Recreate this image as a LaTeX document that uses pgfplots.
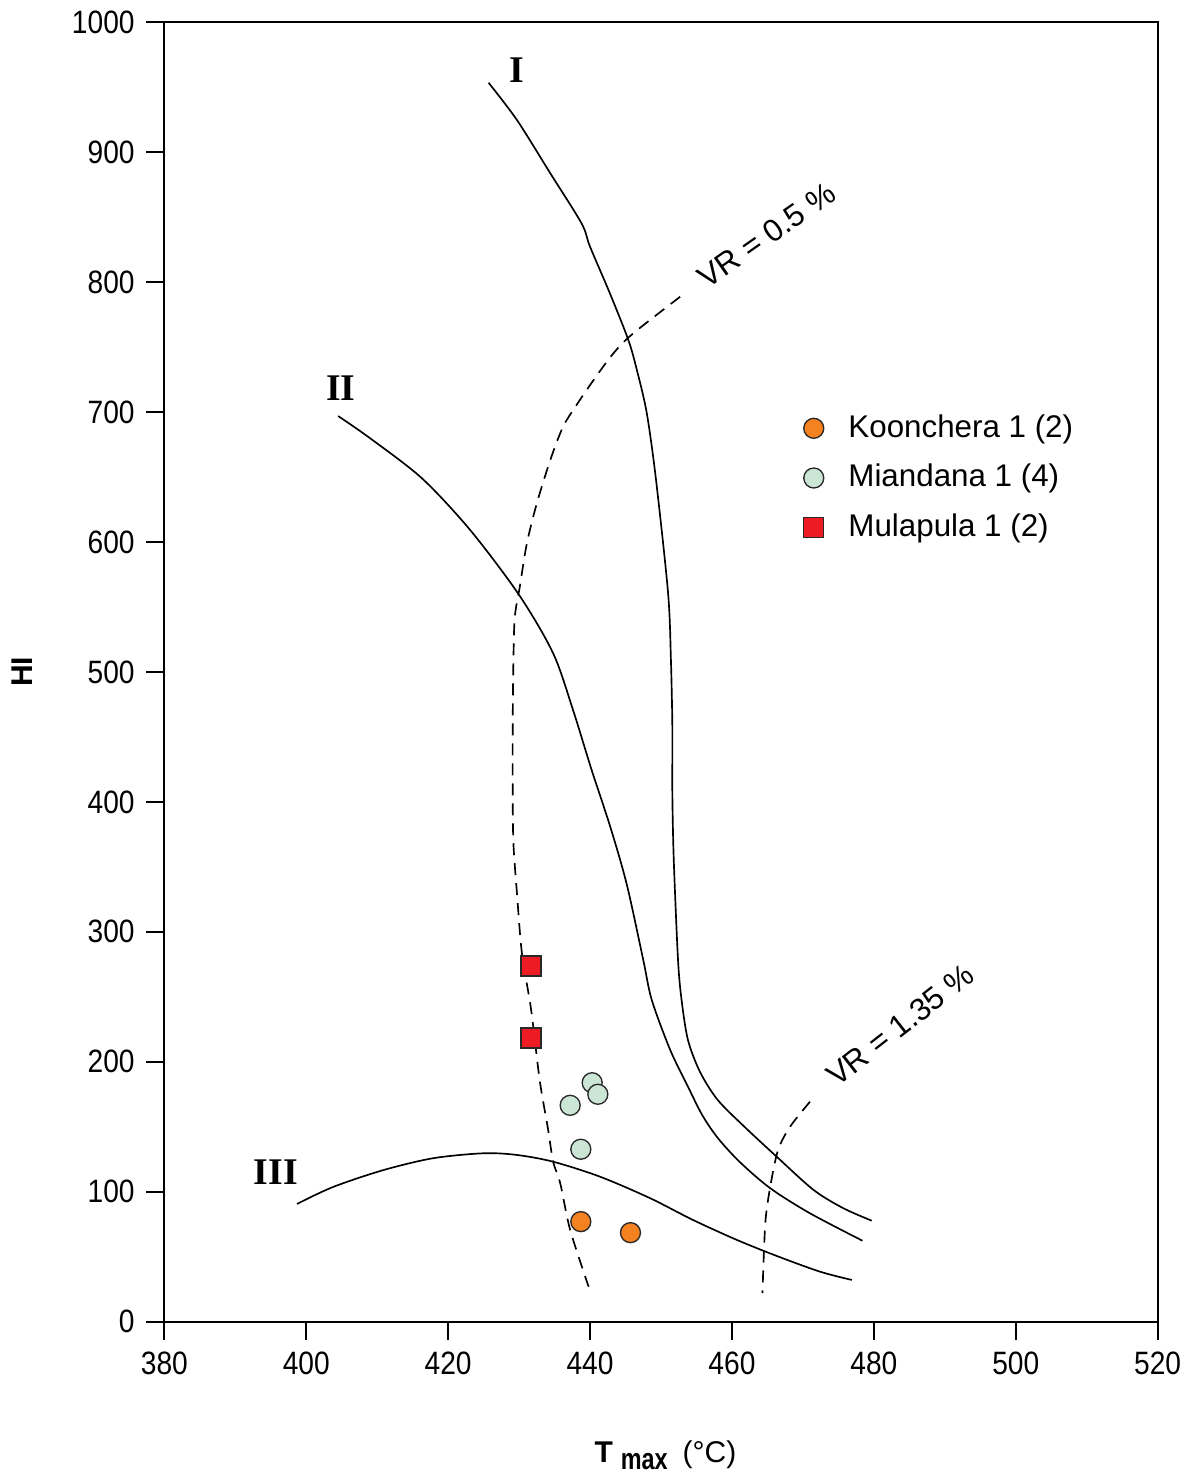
\documentclass[border=0pt]{standalone}
\usepackage{fontspec}
\setmainfont{Liberation Sans}
\newfontfamily\condfont[FakeStretch=0.87]{Liberation Sans}
\newfontfamily\condbfont[FakeStretch=0.78]{Liberation Sans Bold}
\newfontfamily\seriffont{Liberation Serif}
\usepackage{pgfplots}
\pgfplotsset{compat=1.18}
\definecolor{korange}{RGB}{245,130,32}
\definecolor{mgreen}{RGB}{204,230,214}
\definecolor{mred}{RGB}{237,28,36}
\definecolor{edge}{RGB}{40,40,40}
\begin{document}
\begin{tikzpicture}
\useasboundingbox (-49.3pt,-46pt) rectangle (308.9pt,396.5pt);
\begin{axis}[
  scale only axis, width=298pt, height=389.8pt,
  xmin=380, xmax=520, ymin=0, ymax=1000,
  xtick={380,400,...,520}, ytick={0,100,...,1000},
  tick align=outside, tick pos=left,
  major tick length=5.4pt,
  axis line style={line width=0.7pt},
  tick style={line width=0.6pt, black},
  /pgf/number format/assume math mode=true,
  /pgf/number format/1000 sep={},
  ticklabel style={font=\condfont\fontsize{9.7}{11}\selectfont},
  xlabel={\textbf{T}\hspace{2.4pt}\raisebox{-2pt}{\condbfont max}\hspace{4.5pt}(°C)},
  xlabel style={at={(axis description cs:0.5045,-0.1087)}, anchor=base, font=\fontsize{9}{11}\selectfont},
  ylabel={\textbf{HI}},
  ylabel style={at={(axis description cs:-0.143,0.5)}, anchor=center, font=\fontsize{9}{11}\selectfont},
  legend style={draw=none, fill=none, at={(rel axis cs:0.633,0.709)}, anchor=north west,
    font=\fontsize{9.4}{11}\selectfont, row sep=2.6pt,
    /tikz/every odd column/.append style={column sep=5.4pt}},
  legend cell align=left,
]
% Curve I
\addplot[black, line width=0.5pt, smooth, forget plot] coordinates {
(425.7,953.5) (429.7,924.8) (434.4,883.8) (438.8,845.3) (440.0,827.3) (442.8,791.4)
(445.4,755.5) (446.6,732.4) (448.0,699.1) (449.3,647.8) (451.0,560.6) (451.4,509.2)
(451.6,457.9) (451.6,406.9) (451.8,355.3) (452.4,278.4) (452.9,247.6) (453.8,216.8)
(455.5,192.2) (458.0,170.6) (461.8,149.8) (466.3,127.0) (471.5,101.4) (475.7,87.3) (479.7,77.7)};
% Curve II
\addplot[black, line width=0.5pt, smooth, forget plot] coordinates {
(404.5,697.0) (409.0,679.9) (416.3,649.1) (423.1,609.3) (430.0,559.3) (434.8,514.4)
(437.6,470.8) (440.2,425.0) (442.9,380.0) (445.2,336.0) (447.5,278.4)
(448.7,247.6) (451.3,209.1) (453.8,180.9) (455.8,159.1) (458.0,141.4) (461.1,122.9)
(465.4,102.7) (471.0,83.4) (478.4,62.3)};
% Curve III
\addplot[black, line width=0.5pt, smooth, forget plot] coordinates {
(398.7,90.6) (403.8,103.7) (410.9,116.7) (417.9,125.8) (425.0,129.6) (429.7,128.3)
(434.8,123.1) (441.4,111.6) (448.4,95.2) (454.5,78.3) (460.7,62.9) (466.3,50.6)
(472.4,38.5) (476.9,32.1)};
% VR = 0.5 %
\addplot[black, line width=0.5pt, dash pattern=on 3.6pt off 2.4pt, smooth, forget plot] coordinates {
(452.7,788.8) (446.1,760.7) (443.3,745.3) (440.5,724.7) (438.1,705.5) (436.2,688.8)
(434.4,663.2) (432.5,629.8) (431.1,599.1) (430.1,565.6) (429.4,542.6) (429.2,509.2)
(429.1,457.9) (429.1,406.7) (429.2,368.2) (429.7,329.7) (430.4,283.5) (431.7,239.9)
(432.9,186.0) (434.1,147.5) (434.8,123.1) (435.8,106.5) (437.2,70.6) (439.8,26.9)};
% VR = 1.35 %
\addplot[black, line width=0.5pt, dash pattern=on 3.6pt off 2.4pt, smooth, forget plot] coordinates {
(471.0,169.3) (468.2,150.1) (466.5,132.1) (465.4,103.9) (464.7,75.7) (464.3,21.9)};
% Data
\addplot[only marks, mark=*, mark size=3pt, mark options={fill=korange, draw=edge, line width=0.4pt}]
  coordinates {(438.7,77.0) (445.7,68.5)};
\addlegendentry{Koonchera 1 (2)}
\addplot[only marks, mark=*, mark size=3pt, mark options={fill=mgreen, draw=edge, line width=0.4pt}]
  coordinates {(440.3,183.9) (441.1,175.0) (437.2,166.5) (438.7,132.7)};
\addlegendentry{Miandana 1 (4)}
\addplot[only marks, mark=square*, mark size=3pt, mark options={fill=mred, draw=edge, line width=0.4pt}]
  coordinates {(431.7,273.7) (431.7,218.3)};
\addlegendentry{Mulapula 1 (2)}
% Labels
\node[font=\seriffont\bfseries\fontsize{11.3}{13}\selectfont] at (axis cs:429.7,963.3) {I};
\node[font=\seriffont\bfseries\fontsize{11.3}{13}\selectfont] at (axis cs:404.9,718.6) {II};
\node[font=\seriffont\bfseries\fontsize{11.3}{13}\selectfont] at (axis cs:395.7,115.2) {III};
\node[rotate=35, font=\fontsize{9.4}{11}\selectfont] at (axis cs:464.9,836.3) {VR = 0.5 \%};
\node[rotate=38, font=\fontsize{9.4}{11}\selectfont] at (axis cs:483.7,228.3) {VR = 1.35 \%};
\end{axis}
\end{tikzpicture}
\end{document}
